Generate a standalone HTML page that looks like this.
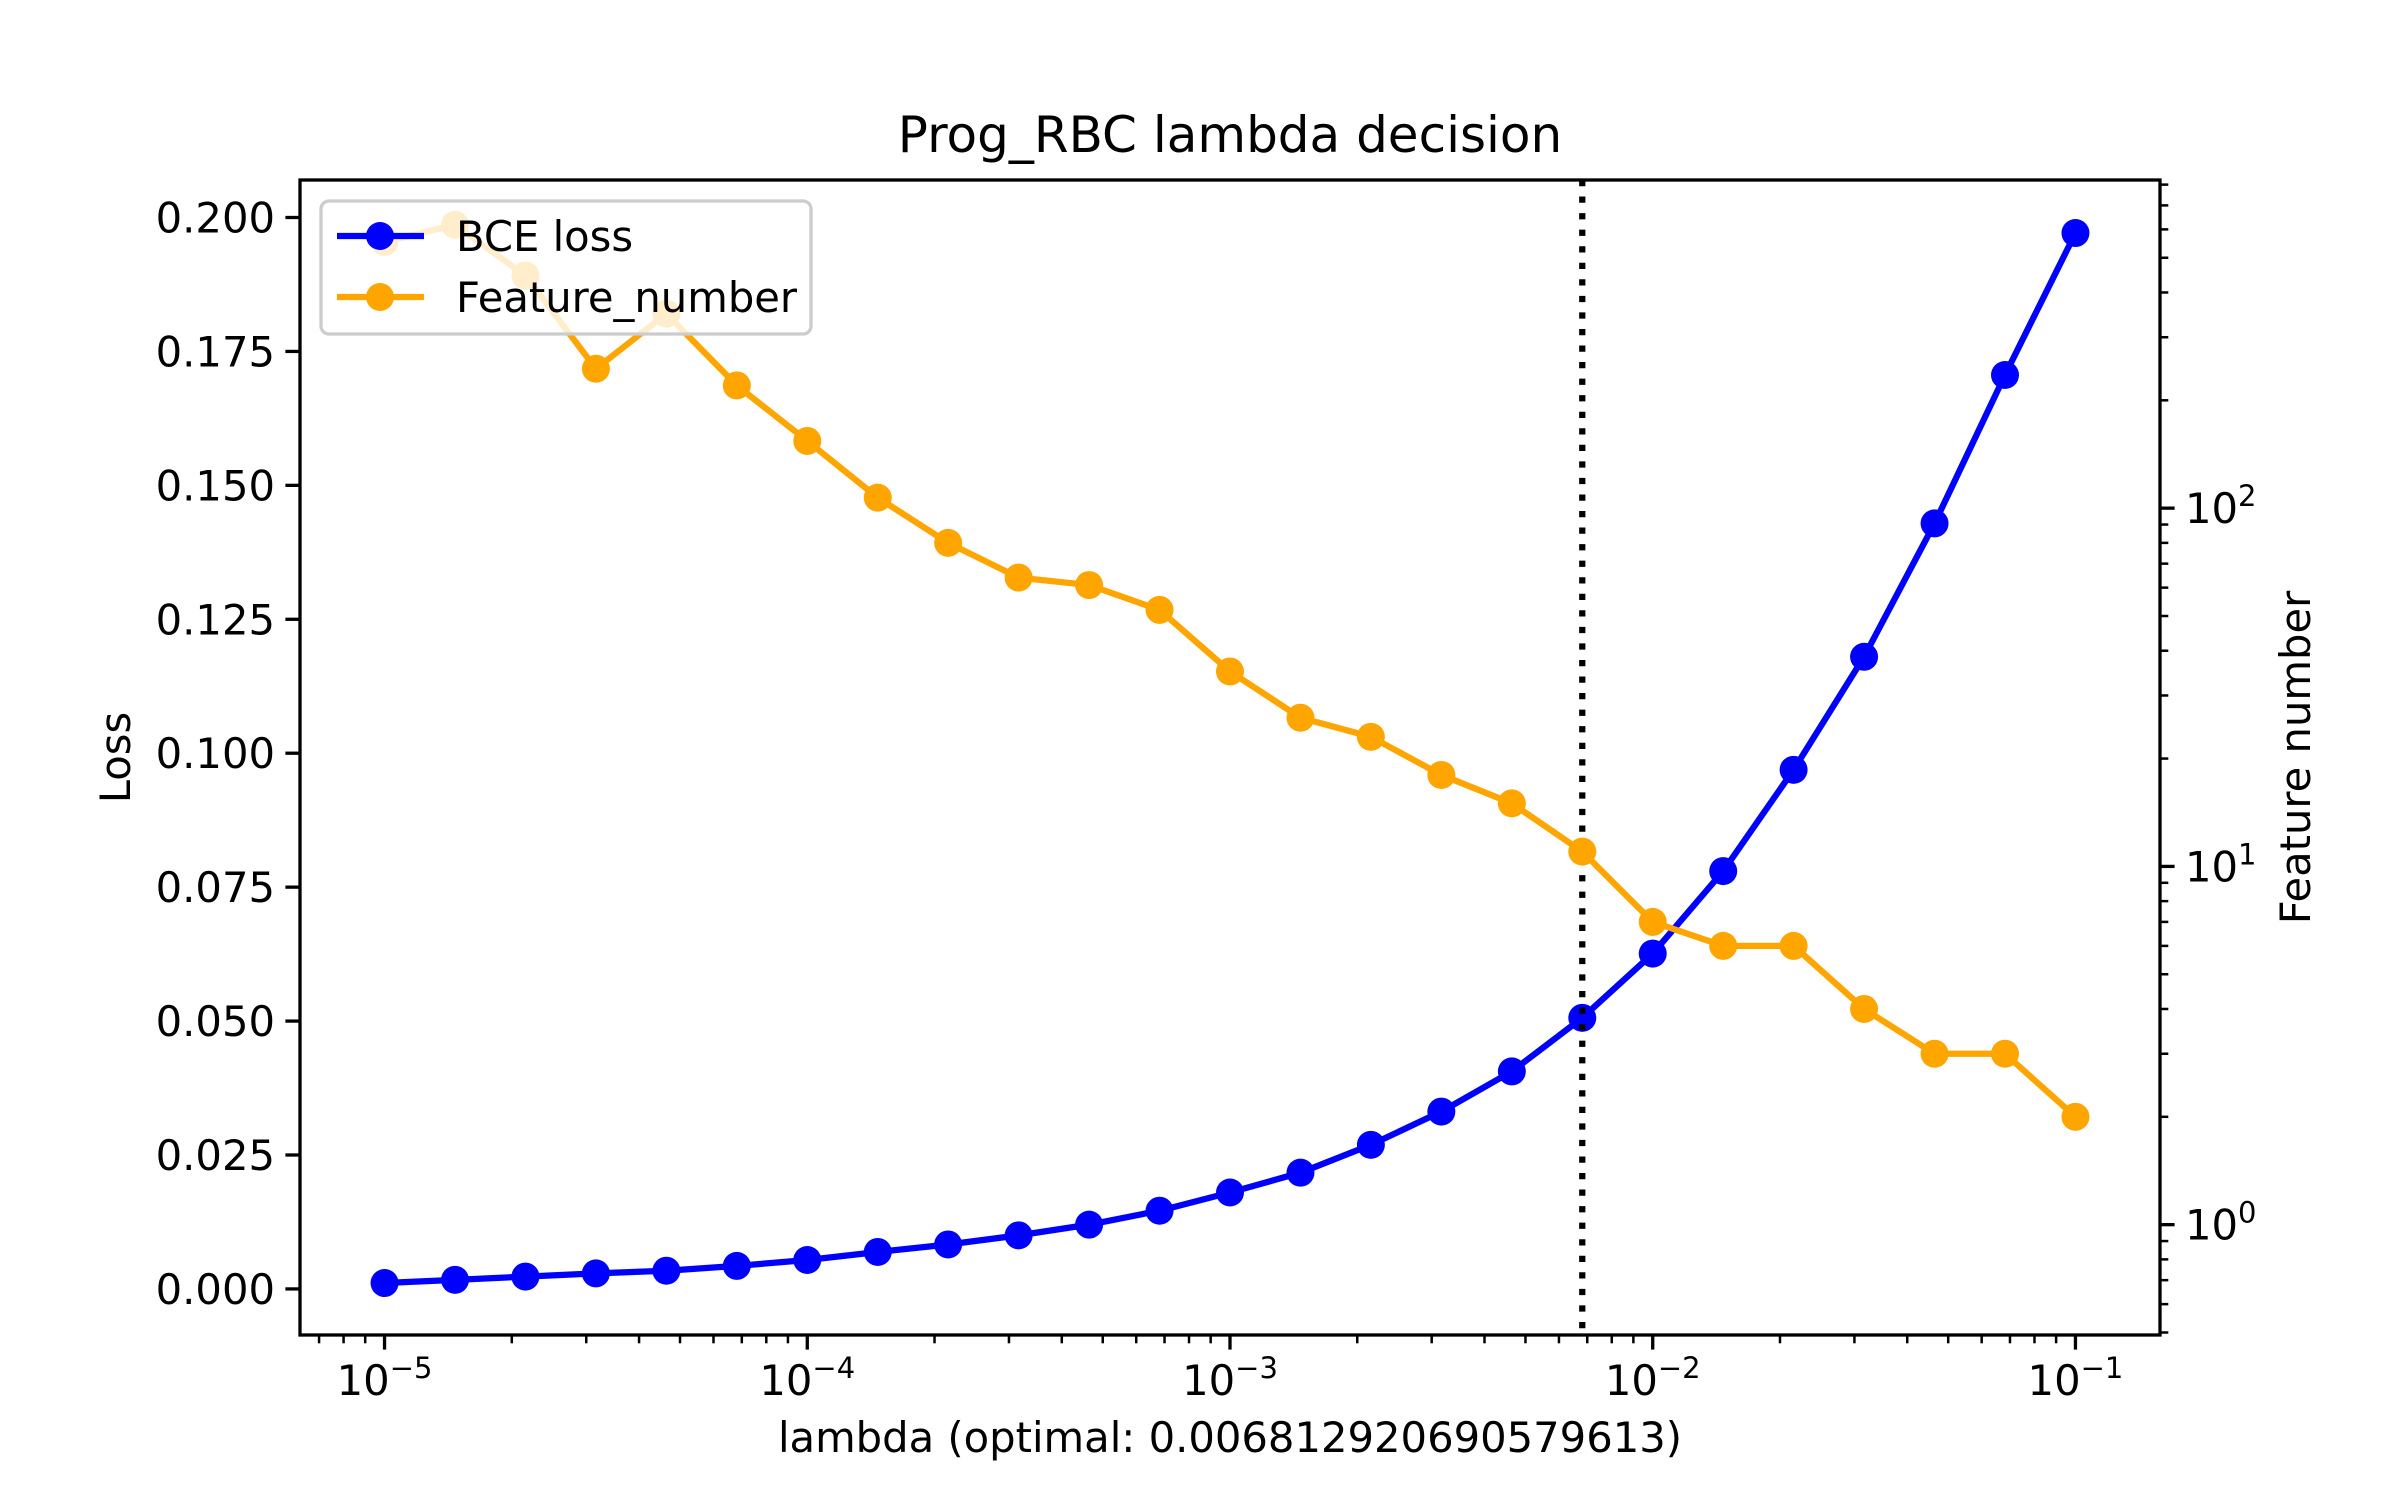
<!DOCTYPE html>
<html><head><meta charset="utf-8"><style>
html,body{margin:0;padding:0;background:#fff}
svg{display:block;font-family:"DejaVu Sans","Liberation Sans",sans-serif}
</style></head><body>
<svg id="chart" width="2400" height="1500" viewBox="0 0 2400 1500">
<rect width="2400" height="1500" fill="#fff"/>
</svg>
<script>
const lambdas = [1e-5,1.468e-5,2.154e-5,3.162e-5,4.642e-5,6.813e-5,1e-4,1.468e-4,2.154e-4,3.162e-4,4.642e-4,6.813e-4,1e-3,1.468e-3,2.154e-3,3.162e-3,4.642e-3,6.813e-3,1e-2,1.468e-2,2.154e-2,3.162e-2,4.642e-2,6.813e-2,1e-1];
const bceLoss = [0.0011,0.0017,0.0023,0.0029,0.0034,0.0043,0.0054,0.0069,0.0083,0.0100,0.0120,0.0146,0.0180,0.0217,0.0269,0.0331,0.0406,0.0506,0.0626,0.0780,0.0969,0.1180,0.1429,0.1706,0.1971];
const featureNumber = [554,618,446,245,349,220,154,107,80,64,61,52,35,26,23,18,15,11,7,6,6,4,3,3,2];
const optimalLambda = 0.006812920690579613;
const lossTicks = [0,0.025,0.05,0.075,0.1,0.125,0.15,0.175,0.2];
const lossTickLabels = ["0.000","0.025","0.050","0.075","0.100","0.125","0.150","0.175","0.200"];
const xTickExps = [-5,-4,-3,-2,-1];
const featTickExps = [0,1,2];

const NS="http://www.w3.org/2000/svg";
const svg=document.getElementById('chart');
const L=300,R=2160,T=180,B=1335;
const MR=14;
const xmin=-5.2,xmax=-0.8;
const X=v=>L+(Math.log10(v)-xmin)/(xmax-xmin)*(R-L);
const ly0=-0.0086,ly1=0.2070;
const YL=v=>B-(v-ly0)/(ly1-ly0)*(B-T);
const ry0=-0.308,ry1=2.916;
const YR=v=>B-(Math.log10(v)-ry0)/(ry1-ry0)*(B-T);
function el(tag,attrs,parent){const e=document.createElementNS(NS,tag);for(const k in attrs)e.setAttribute(k,attrs[k]);(parent||svg).appendChild(e);return e;}

const blue=el('g',{});


el('polyline',{points:lambdas.map((l,i)=>X(l)+','+YL(bceLoss[i])).join(' '),fill:'none',stroke:'#0000ff','stroke-width':6.25,'stroke-linejoin':'round'},blue);
lambdas.forEach((l,i)=>{const c=el('circle',{cx:X(l),cy:YL(bceLoss[i]),r:MR,fill:'#0000ff'},blue);

});

const vl=el('line',{x1:X(optimalLambda),x2:X(optimalLambda),y1:T,y2:B,stroke:'#000','stroke-width':6.25,'stroke-dasharray':'6.25,10.3'});



const org=el('g',{});


el('polyline',{points:lambdas.map((l,i)=>X(l)+','+YR(featureNumber[i])).join(' '),fill:'none',stroke:'#ffa500','stroke-width':6.25,'stroke-linejoin':'round'},org);
lambdas.forEach((l,i)=>{const c=el('circle',{cx:X(l),cy:YR(featureNumber[i]),r:MR,fill:'#ffa500'},org);

});

const fr=el('rect',{x:L,y:T,width:R-L,height:B-T,fill:'none',stroke:'#000','stroke-width':3.3});



const xa=el('g',{});


for(let e=-6;e<=0;e++){for(let m=1;m<10;m++){const v=m*Math.pow(10,e);const lv=Math.log10(v);if(lv<xmin||lv>xmax)continue;
el('line',{x1:X(v),x2:X(v),y1:B,y2:B+(m==1?14.6:8.3),stroke:'#000','stroke-width':m==1?3.3:2.5},xa);}}
xTickExps.forEach(e=>{const t=el('text',{x:X(Math.pow(10,e)),y:1395,'font-size':41.7,'text-anchor':'middle'},xa);


t.innerHTML='10<tspan dy="-17" font-size="29">\u2212'+Math.abs(e)+'</tspan>';});
const xl=el('text',{x:(L+R)/2,y:1452,'font-size':41.7,'text-anchor':'middle'},xa);


xl.textContent='lambda (optimal: 0.006812920690579613)';

const ya=el('g',{});


lossTicks.forEach((v,i)=>{el('line',{x1:L-14.6,x2:L,y1:YL(v),y2:YL(v),stroke:'#000','stroke-width':3.3},ya);
const t=el('text',{x:L-25,y:YL(v)+15,'font-size':41.7,'text-anchor':'end'},ya);


t.textContent=lossTickLabels[i];});
const yl=el('text',{x:0,y:0,'font-size':41.7,'text-anchor':'middle',transform:`translate(130,${(T+B)/2}) rotate(-90)`},ya);


yl.textContent='Loss';

const ra=el('g',{});


for(let e=-1;e<=3;e++){for(let m=1;m<10;m++){const v=m*Math.pow(10,e);const lv=Math.log10(v);if(lv<ry0||lv>ry1)continue;
el('line',{x1:R,x2:R+(m==1?14.6:8.3),y1:YR(v),y2:YR(v),stroke:'#000','stroke-width':m==1?3.3:2.5},ra);}}
featTickExps.forEach(e=>{const t=el('text',{x:R+25,y:YR(Math.pow(10,e))+15,'font-size':41.7},ra);


t.innerHTML='10<tspan dy="-17" font-size="29">'+e+'</tspan>';});
const rl=el('text',{x:0,y:0,'font-size':41.7,'text-anchor':'middle',transform:`translate(2310,${(T+B)/2}) rotate(-90)`},ra);


rl.textContent='Feature number';

const ti=el('text',{x:(L+R)/2,y:152,'font-size':50,'text-anchor':'middle'});


ti.textContent='Prog_RBC lambda decision';

const lg=el('g',{});


el('rect',{x:321,y:201,width:490,height:133,rx:8,fill:'#fff','fill-opacity':0.8,stroke:'#cccccc','stroke-width':3.3},lg);
[['BCE loss','#0000ff',236],['Feature_number','#ffa500',297]].forEach(([lab,col,y])=>{
const g=el('g',{},lg);


el('line',{x1:337,x2:424,y1:y,y2:y,stroke:col,'stroke-width':6.25},g);
el('circle',{cx:380,cy:y,r:MR,fill:col},g);
const t=el('text',{x:456,y:y+15,'font-size':41.7},g);t.textContent=lab;});
</script>
</body></html>
